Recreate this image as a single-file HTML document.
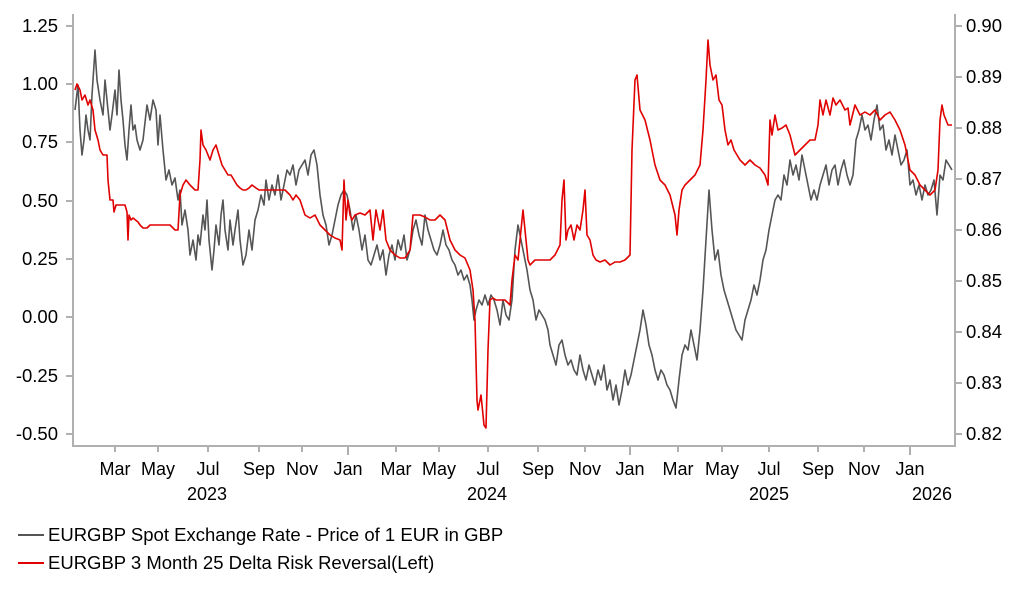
<!DOCTYPE html>
<html><head><meta charset="utf-8"><style>
html,body{margin:0;padding:0;background:#fff;}
svg{display:block;font-family:"Liberation Sans",Arial,sans-serif;}
</style></head><body>
<svg width="1022" height="597" viewBox="0 0 1022 597">
<g stroke="#b0b0b0" stroke-width="2" fill="none">
<line x1="73" y1="14" x2="73" y2="447"/>
<line x1="955" y1="14" x2="955" y2="447"/>
<line x1="72" y1="446" x2="956" y2="446"/>
<path d="M66 26H73M66 84H73M66 142H73M66 201H73M66 259H73M66 317H73M66 376H73M66 434H73"/>
<path d="M955 26H962M955 77H962M955 128H962M955 179H962M955 230H962M955 281H962M955 332H962M955 383H962M955 434H962"/>
<path d="M115 446V452M158 446V452M208 446V452M259 446V452M302 446V452M348 446V455M396 446V452M439 446V452M488 446V452M538 446V452M585 446V452M630 446V455M678 446V452M722 446V452M769 446V452M818 446V452M864 446V452M910 446V455"/>
</g>
<g font-size="18.5" fill="#000" text-anchor="end">
<text x="58" y="32">1.25</text><text x="58" y="90">1.00</text><text x="58" y="148">0.75</text><text x="58" y="207">0.50</text>
<text x="58" y="265">0.25</text><text x="58" y="323">0.00</text><text x="58" y="382">-0.25</text><text x="58" y="440">-0.50</text>
</g>
<g font-size="18.5" fill="#000">
<text x="966" y="32">0.90</text><text x="966" y="83">0.89</text><text x="966" y="134">0.88</text><text x="966" y="185">0.87</text>
<text x="966" y="236">0.86</text><text x="966" y="287">0.85</text><text x="966" y="338">0.84</text><text x="966" y="389">0.83</text><text x="966" y="440">0.82</text>
</g>
<g font-size="18" fill="#000" text-anchor="middle">
<text x="115" y="475">Mar</text><text x="158" y="475">May</text><text x="208" y="475">Jul</text><text x="259" y="475">Sep</text><text x="302" y="475">Nov</text><text x="348" y="475">Jan</text>
<text x="396" y="475">Mar</text><text x="439" y="475">May</text><text x="488" y="475">Jul</text><text x="538" y="475">Sep</text><text x="585" y="475">Nov</text><text x="630" y="475">Jan</text>
<text x="678" y="475">Mar</text><text x="722" y="475">May</text><text x="769" y="475">Jul</text><text x="818" y="475">Sep</text><text x="864" y="475">Nov</text><text x="910" y="475">Jan</text>
<text x="207" y="500">2023</text><text x="487" y="500">2024</text><text x="769" y="500">2025</text><text x="932" y="500">2026</text>
</g>
<polyline fill="none" stroke="#555" stroke-width="1.6" stroke-linejoin="round" points="75,110 78,85 80,130 82,155 84,140 86,115 88,130 90,140 92,95 95,50 97,80 100,100 103,115 105,80 108,110 110,130 112,115 115,90 117,115 119,70 121,100 123,120 125,145 127,160 129,130 131,105 133,130 135,125 137,140 140,150 143,140 147,105 150,120 153,100 156,110 158,145 160,115 163,150 166,180 169,170 172,185 175,178 178,200 180,190 182,225 185,210 188,230 190,255 193,240 196,260 198,235 200,245 203,215 205,230 207,200 209,240 212,270 214,250 216,225 219,245 221,215 223,200 225,230 228,250 230,220 233,245 235,230 238,210 240,240 243,265 246,255 249,230 252,250 255,220 258,210 261,195 264,205 266,180 269,200 272,185 275,195 278,175 281,200 284,185 287,170 290,175 293,165 296,185 299,170 302,165 305,160 308,175 311,155 314,150 317,165 320,195 323,215 326,225 329,245 332,235 335,220 338,205 341,195 344,190 347,195 350,210 353,230 356,215 359,230 362,250 365,235 368,260 371,265 374,255 377,245 380,260 383,250 386,275 389,255 392,245 395,260 398,240 401,250 404,235 407,260 410,250 413,230 416,220 419,235 422,245 425,215 428,230 431,240 434,250 437,255 440,245 443,230 446,245 449,250 452,260 455,265 458,275 461,270 464,280 467,275 470,285 472,300 474,320 476,310 479,300 482,305 485,295 488,305 491,295 494,300 497,310 500,325 503,300 506,315 509,320 512,300 515,250 518,225 521,240 524,255 527,270 530,290 533,300 536,320 539,310 542,315 545,320 548,330 550,345 553,355 556,365 559,345 562,340 565,355 568,365 571,360 574,370 577,375 580,355 583,370 586,380 589,365 592,375 595,385 598,370 601,380 604,365 607,390 610,380 613,400 616,385 619,405 622,390 625,370 628,385 631,375 634,360 637,345 640,330 643,310 646,325 649,345 652,355 655,370 658,380 661,370 664,375 667,385 670,390 673,400 676,408 679,380 682,355 685,345 688,350 691,330 694,345 697,360 700,330 703,290 706,240 709,190 712,230 715,260 718,250 721,275 724,290 727,300 730,310 733,320 736,330 739,335 742,340 745,320 748,310 751,300 754,285 757,295 760,280 763,260 766,250 769,230 772,215 775,200 778,195 781,200 784,175 787,185 790,160 793,175 796,165 799,180 802,155 805,170 808,185 811,200 814,190 817,200 820,185 823,175 826,165 829,185 832,170 835,165 838,185 841,170 844,160 847,175 850,185 853,175 856,140 859,130 862,115 865,130 868,125 871,140 874,120 877,105 880,130 883,125 886,150 889,140 892,155 895,135 898,150 901,165 904,160 907,150 910,185 913,180 916,195 919,185 922,200 925,185 928,195 931,190 934,180 937,215 940,175 943,180 946,160 949,165 952,170"/>
<polyline fill="none" stroke="#e00000" stroke-width="1.6" stroke-linejoin="round" points="75,90 77,84 80,90 82,100 85,95 88,105 90,100 93,110 95,130 98,140 100,150 103,155 107,155 108,180 110,200 113,200 114,212 116,205 120,205 125,205 127,212 128,240 129,215 131,220 133,218 138,222 140,225 143,228 147,228 150,225 160,225 170,225 175,230 178,230 180,195 183,185 186,180 190,185 195,190 198,190 200,160 201,130 203,145 206,150 210,160 213,150 216,145 219,155 222,165 225,170 228,175 231,175 234,180 237,185 240,188 243,190 246,190 249,188 252,185 256,188 259,190 280,190 285,190 290,195 293,200 296,195 300,200 305,215 310,218 315,215 320,225 325,230 330,235 335,238 340,240 342,250 344,180 346,220 348,200 350,215 352,220 355,215 360,213 365,215 370,210 373,240 376,210 380,230 383,210 386,240 390,250 395,255 400,258 405,258 410,250 413,215 420,215 425,217 430,220 435,220 440,215 445,220 450,240 455,250 460,255 465,258 470,270 473,290 475,320 477,400 478,410 481,395 484,425 486,428 488,350 490,300 493,298 496,300 500,300 505,300 510,305 512,280 515,255 518,260 521,230 523,210 525,230 528,260 530,265 535,260 540,260 550,260 555,255 560,245 562,200 564,180 566,240 568,230 571,225 574,240 577,225 580,230 583,210 585,190 587,235 590,240 593,255 596,260 600,262 605,260 610,265 615,262 620,262 625,260 630,255 632,150 635,80 637,75 640,110 645,120 650,140 655,165 660,180 665,185 670,195 675,215 677,235 679,210 682,190 685,185 690,180 695,175 700,165 703,130 706,80 708,40 710,65 713,80 716,75 719,100 722,105 725,130 728,145 731,140 734,150 737,155 740,160 745,165 750,160 755,165 760,168 765,175 768,185 770,120 772,135 775,115 778,130 782,128 786,125 790,135 795,155 800,150 805,145 810,140 815,140 818,125 820,100 823,115 826,100 830,115 833,98 836,105 840,100 845,110 848,108 850,125 855,105 860,115 865,112 870,115 875,110 880,120 885,115 890,112 895,120 900,130 905,145 910,170 915,175 920,185 925,190 930,195 935,190 938,170 940,120 942,105 944,115 948,125 952,125"/>
<line x1="18" y1="535" x2="44" y2="535" stroke="#555" stroke-width="2"/>
<line x1="18" y1="563" x2="44" y2="563" stroke="#e00000" stroke-width="2"/>
<text x="48" y="541" font-size="18.5">EURGBP Spot Exchange Rate - Price of 1 EUR in GBP</text>
<text x="48" y="569" font-size="18.5">EURGBP 3 Month 25 Delta Risk Reversal(Left)</text>
</svg>
</body></html>
